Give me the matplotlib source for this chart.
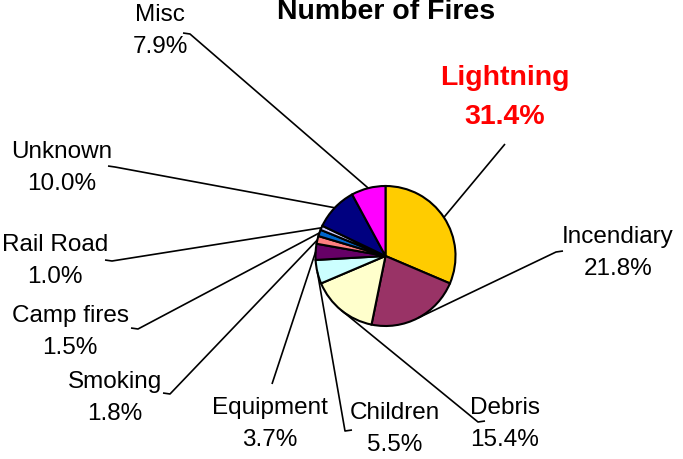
import numpy as np
import matplotlib
matplotlib.use('Agg')
import matplotlib.pyplot as plt

plt.rcParams['font.family'] = ['Liberation Sans', 'DejaVu Sans']

causes = ['Lightning', 'Incendiary', 'Debris', 'Children', 'Equipment',
          'Smoking', 'Camp fires', 'Rail Road', 'Unknown', 'Misc']
percent = [31.4, 21.8, 15.4, 5.5, 3.7, 1.8, 1.5, 1.0, 10.0, 7.9]
colors = ['#FFCC00', '#993366', '#FFFFCC', '#CCFFFF', '#660066',
          '#FF8080', '#0066CC', '#CCCCFF', '#000080', '#FF00FF']

W, H = 683, 460
# label centre (x, y of first line) and leader end point, pixel coords from top
label_pos = [(505, 78), (618, 237), (505, 408), (395, 413), (270, 408),
             (115, 382), (70, 316), (55, 245), (62, 152), (160, 15)]
line_end = [(505, 145), (556, 253), (478, 423), (345, 432), (272, 385),
            (170, 395), (138, 330), (112, 262), (115, 168), (190, 35)]
tick_dir = [0, 1, 1, 1, 0, -1, -1, -1, -1, -1]

fig = plt.figure(figsize=(6.83, 4.60), dpi=100)
ax = fig.add_axes([0, 0, 1, 1])

cx, cy, r = 385.5, H - 257, 70
wedges, _ = ax.pie(percent, colors=colors, startangle=90, counterclock=False,
                   center=(cx, cy), radius=r,
                   wedgeprops=dict(edgecolor='black', linewidth=1.5))
ax.set_xlim(0, W)
ax.set_ylim(0, H)
ax.axis('off')

for i, w in enumerate(wedges):
    ang = np.deg2rad((w.theta1 + w.theta2) / 2)
    x0 = cx + r * np.cos(ang)
    y0 = cy + r * np.sin(ang)
    ex, ey = line_end[i]
    ey = H - ey
    xs = [x0, ex]
    ys = [y0, ey]
    if tick_dir[i] != 0:
        xs.append(ex + 7 * tick_dir[i])
        ys.append(ey + 1)
    ax.plot(xs, ys, color='black', lw=1.2, solid_capstyle='butt')

    lx, ly = label_pos[i]
    if causes[i] == 'Lightning':
        ax.text(lx, H - ly, causes[i], ha='center', va='center',
                fontsize=20.5, fontweight='bold', color='#FF0000')
        ax.text(lx, H - ly - 39, f'{percent[i]:.1f}%', ha='center', va='center',
                fontsize=20.5, fontweight='bold', color='#FF0000')
    else:
        ax.text(lx, H - ly, causes[i], ha='center', va='center',
                fontsize=17.5, color='black')
        ax.text(lx, H - ly - 32, f'{percent[i]:.1f}%', ha='center', va='center',
                fontsize=17.5, color='black')

ax.text(386, H - 12, 'Number of Fires', ha='center', va='center',
        fontsize=20.5, fontweight='bold')

fig.savefig('out.png', dpi=100)
